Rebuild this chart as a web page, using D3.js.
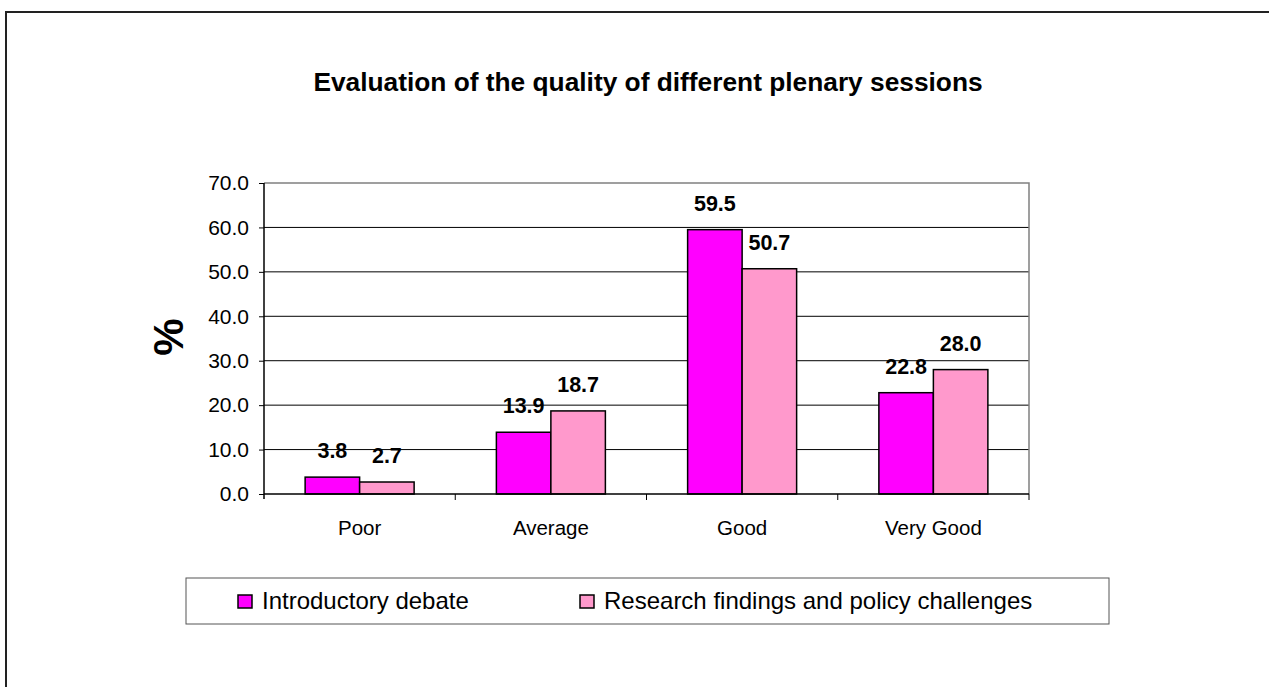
<!DOCTYPE html>
<html>
<head>
<meta charset="utf-8">
<script src="https://cdn.jsdelivr.net/npm/d3@7"></script>
<style>
  body { margin: 0; background: #fff; }
  svg { display: block; font-family: "Liberation Sans", Arial, sans-serif; }
</style>
</head>
<body>
<svg id="chart" width="1269" height="687"></svg>
<script>
const categories = ["Poor", "Average", "Good", "Very Good"];
const seriesNames = ["Introductory debate", "Research findings and policy challenges"];
const introValues = [3.8, 13.9, 59.5, 22.8];
const researchValues = [2.7, 18.7, 50.7, 28.0];
const yTicks = [0, 10, 20, 30, 40, 50, 60, 70];
const colors = ["#ff00ff", "#ff99cc"];

const title = "Evaluation of the quality of different plenary sessions";

var margin = {left: 264, right: 1029, top: 183, bottom: 494};
var fontFam = "Liberation Sans, Arial, sans-serif";

var svg = d3.select("#chart");

// outer frame
svg.append("rect")
  .attr("x", 6).attr("y", 12)
  .attr("width", 1300).attr("height", 700)
  .attr("fill", "#fff")
  .attr("stroke", "#222").attr("stroke-width", 2);

svg.append("text")
  .attr("x", 648).attr("y", 91)
  .attr("text-anchor", "middle")
  .style("font-size", "26.3px").style("font-weight", 700)
  .text(title);

var y = d3.scaleLinear().domain([0, 70]).range([margin.bottom, margin.top]);
var x0 = d3.scaleBand().domain(categories).range([margin.left, margin.right]);
var x1 = d3.scaleBand().domain(seriesNames).range([0, 109]);

// gridlines
svg.append("g").selectAll("line")
  .data(yTicks.filter(d => d > 0 && d < 70))
  .enter().append("line")
  .attr("x1", margin.left).attr("x2", margin.right)
  .attr("y1", d => y(d)).attr("y2", d => y(d))
  .attr("stroke", "#000").attr("stroke-width", 1);

// plot area top/right border (gray)
svg.append("path")
  .attr("d", `M${margin.left},${y(70)}H${margin.right}V${margin.bottom}`)
  .attr("fill", "none").attr("stroke", "#808080").attr("stroke-width", 1.5);

// bars
var data = categories.map((c, i) => ({cat: c, vals: [
  {name: seriesNames[0], v: introValues[i], color: colors[0]},
  {name: seriesNames[1], v: researchValues[i], color: colors[1]}
]}));

var groups = svg.append("g").selectAll("g")
  .data(data).enter().append("g")
  .attr("transform", d => `translate(${x0(d.cat) + x0.bandwidth()/2 - 54.5},0)`);

groups.selectAll("rect")
  .data(d => d.vals).enter().append("rect")
  .attr("x", d => x1(d.name))
  .attr("y", d => y(d.v))
  .attr("width", x1.bandwidth())
  .attr("height", d => y(0) - y(d.v))
  .attr("fill", d => d.color)
  .attr("stroke", "#000").attr("stroke-width", 1.5);

groups.selectAll("text")
  .data(d => d.vals).enter().append("text")
  .attr("x", d => x1(d.name) + x1.bandwidth()/2)
  .attr("y", d => y(d.v) - 19)
  .attr("text-anchor", "middle")
  .style("font-size", "21.5px").style("font-weight", 700)
  .text(d => d.v.toFixed(1));

// y axis
var yAxis = d3.axisLeft(y).tickValues(yTicks).tickSize(5).tickPadding(10)
  .tickFormat(d => d.toFixed(1));
var yG = svg.append("g").attr("transform", `translate(${margin.left},0)`).call(yAxis);
yG.select(".domain").attr("stroke", "#000").attr("stroke-width", 1.5).attr("d", `M0,${y(70)}V${margin.bottom + 5}`);
yG.selectAll(".tick line").attr("stroke", "#000");
yG.selectAll(".tick text").style("font-size", "21px").style("font-family", fontFam).attr("fill", "#000");

// x axis
var xAxis = d3.axisBottom(x0).tickSize(0);
var xG = svg.append("g").attr("transform", `translate(0,${margin.bottom})`).call(xAxis);
xG.select(".domain").attr("stroke", "#000").attr("stroke-width", 1.5).attr("d", `M${margin.left},0H${margin.right}`);
xG.selectAll(".tick text").attr("y", 41).attr("dy", 0)
  .style("font-size", "20.5px").style("font-family", fontFam).attr("fill", "#000");
// category separators
xG.selectAll(".sep").data(categories).enter().append("line")
  .attr("x1", d => x0(d) + x0.bandwidth()).attr("x2", d => x0(d) + x0.bandwidth())
  .attr("y1", 0).attr("y2", 6).attr("stroke", "#000");

// y label
svg.append("text")
  .attr("transform", "translate(183,337) rotate(-90)")
  .attr("text-anchor", "middle")
  .style("font-size", "42px").style("font-weight", 700)
  .text("%");

// legend
var leg = svg.append("g");
leg.append("rect")
  .attr("x", 186).attr("y", 578).attr("width", 923).attr("height", 46)
  .attr("fill", "#fff").attr("stroke", "#555").attr("stroke-width", 1);
var legX = [238, 580];
var li = leg.selectAll(".li").data(seriesNames).enter().append("g")
  .attr("transform", (d, i) => `translate(${legX[i]},601)`);
li.append("rect")
  .attr("x", 0).attr("y", -6).attr("width", 14).attr("height", 13)
  .attr("fill", (d, i) => colors[i]).attr("stroke", "#000").attr("stroke-width", 1.5);
li.append("text")
  .attr("x", 24).attr("y", 8)
  .style("font-size", "24px")
  .text(d => d);
</script>
</body>
</html>
